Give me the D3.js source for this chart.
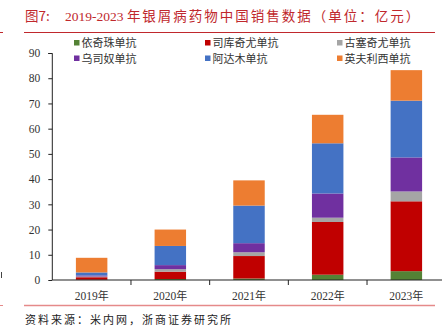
<!DOCTYPE html>
<html><head><meta charset="utf-8">
<script src="https://cdn.jsdelivr.net/npm/d3@7"></script>
<style>body{margin:0;background:#fff;}svg{display:block;}</style>
</head><body><svg id="c" width="442" height="326"></svg>
<script>
const categories = ["2019年","2020年","2021年","2022年","2023年"];
const seriesNames = ["依奇珠单抗","司库奇尤单抗","古塞奇尤单抗","乌司奴单抗","阿达木单抗","英夫利西单抗"];
const seriesColors = ["#548235","#c00000","#a5a5a5","#7030a0","#4472c4","#ed7d31"];
const ixekizumab   = [0.1, 0.4, 0.6, 2.1, 3.5];
const secukinumab  = [1.0, 2.9, 8.9, 20.9, 27.7];
const guselkumab   = [0.3, 1.0, 1.5, 1.7, 3.9];
const ustekinumab  = [0.4, 1.6, 3.6, 9.6, 13.5];
const adalimumab   = [1.2, 7.6, 14.9, 19.9, 22.5];
const infliximab   = [5.8, 6.5, 10.0, 11.3, 12.1];
const yTicks = [0,10,20,30,40,50,60,70,80,90];
const seriesValues = [ixekizumab, secukinumab, guselkumab, ustekinumab, adalimumab, infliximab];

const svg = d3.select("#c");
const serif = "'Liberation Serif','DejaVu Serif',serif";
const cjk = "'Noto Sans CJK SC','Noto Sans CJK JP',sans-serif";

// title
const title = svg.append("text").attr("x", 25).attr("y", 21)
  .attr("fill", "#c0282d").style("font-size", "13.5px");
title.append("tspan").style("font-family", cjk).text("图7:");
title.append("tspan").attr("x", 65).style("font-family", serif).text("2019-2023 ");
title.append("tspan").style("font-family", cjk).style("letter-spacing", "2px").text("年银屑病药物中国销售数据（单位：亿元）");

svg.append("line").attr("x1", 24).attr("x2", 435).attr("y1", 32.5).attr("y2", 32.5)
  .attr("stroke", "#c0282d").attr("stroke-width", 1.2);
svg.append("line").attr("x1", 0).attr("x2", 3).attr("y1", 32.5).attr("y2", 32.5)
  .attr("stroke", "#c0282d").attr("stroke-width", 1);
svg.append("line").attr("x1", 24).attr("x2", 435).attr("y1", 305.5).attr("y2", 305.5)
  .attr("stroke", "#e58a8a").attr("stroke-width", 1.5);
svg.append("line").attr("x1", 0).attr("x2", 3).attr("y1", 305.5).attr("y2", 305.5)
  .attr("stroke", "#e58a8a").attr("stroke-width", 1);
svg.append("text").attr("x", 25).attr("y", 324).style("font-family", cjk)
  .style("font-size", "11px").style("letter-spacing", "2px").attr("fill", "#222").text("资料来源：米内网，浙商证券研究所");

// scales
const x = d3.scaleBand().domain(categories).range([52.3, 445.7]).paddingInner(0.6).paddingOuter(0.3);
const y = d3.scaleLinear().domain([0, 90]).range([280, 53]);

// stacked data
const table = categories.map((c, i) => {
  const o = {cat: c};
  seriesNames.forEach((s, j) => o[s] = seriesValues[j][i]);
  return o;
});
const stack = d3.stack().keys(seriesNames)(table);

svg.append("g").selectAll("g").data(stack).join("g")
  .attr("fill", (d, i) => seriesColors[i])
  .selectAll("rect").data(d => d).join("rect")
  .attr("x", d => x(d.data.cat))
  .attr("width", x.bandwidth())
  .attr("y", d => y(d[1]))
  .attr("height", d => y(d[0]) - y(d[1]));

// y axis
const ya = svg.append("g").attr("transform", "translate(52.3,0)")
  .call(d3.axisLeft(y).tickValues(yTicks).tickSize(4).tickPadding(8));
ya.select(".domain").attr("d", "M-4,53.5H0V280").attr("stroke", "#222");
ya.selectAll(".tick line").attr("stroke", "#222");
ya.selectAll("text").style("font-family", serif).style("font-size", "11.5px").attr("fill", "#333");

// x axis
const xa = svg.append("g").attr("transform", "translate(0,280)");
xa.append("line").attr("x1", 52.3).attr("x2", 442).attr("stroke", "#222").attr("stroke-width", 1.2);
const step = x.step();
xa.selectAll("line.t").data(categories.slice(1)).join("line").attr("class", "t")
  .attr("x1", d => x(d) + x.bandwidth() / 2 - step / 2)
  .attr("x2", d => x(d) + x.bandwidth() / 2 - step / 2)
  .attr("y1", 0).attr("y2", 5).attr("stroke", "#222");
const xl = xa.selectAll("text").data(categories).join("text")
  .attr("x", d => x(d) + x.bandwidth() / 2).attr("y", 20)
  .attr("text-anchor", "middle").attr("fill", "#333").style("font-size", "11.5px");
xl.append("tspan").style("font-family", serif).text(d => d.slice(0, 4));
xl.append("tspan").style("font-family", cjk).style("font-size", "11px").text(d => d.slice(4));

// legend
const legendPos = [[74,43],[205,43],[337,43],[74,58.5],[205,58.5],[337,58.5]];
const lg = svg.append("g").selectAll("g").data(seriesNames).join("g")
  .attr("transform", (d, i) => `translate(${legendPos[i][0]},${legendPos[i][1]})`);
lg.append("rect").attr("x", 0).attr("y", -3).attr("width", 5.5).attr("height", 5.5)
  .attr("fill", (d, i) => seriesColors[i]);
lg.append("text").attr("x", 7.5).attr("y", 4).style("font-family", cjk)
  .style("font-size", "11px").attr("fill", "#333").text(d => d);

// left edge artifact mark
svg.append("line").attr("x1", 1.5).attr("x2", 1.5).attr("y1", 272).attr("y2", 278)
  .attr("stroke", "#444").attr("stroke-width", 1);
</script></body></html>
